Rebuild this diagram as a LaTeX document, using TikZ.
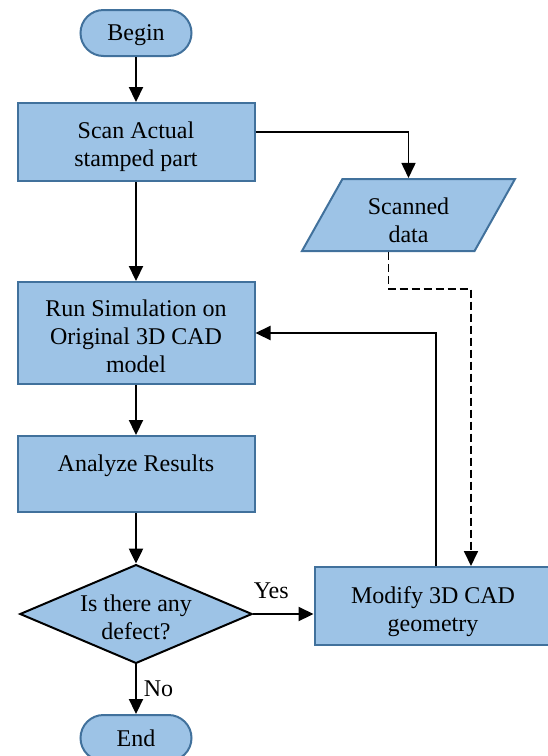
\documentclass[tikz,border=0pt]{standalone}
\usepackage{fontspec}
\setmainfont{Liberation Serif}
\usetikzlibrary{shapes.geometric,arrows.meta}
\definecolor{boxfill}{HTML}{9DC3E6}
\definecolor{boxline}{HTML}{41719C}

\begin{document}
\begin{tikzpicture}[x=0.5pt,y=-0.5pt,
	every node/.style={font=\fontsize{12}{14}\selectfont, align=center},
	box/.style={draw=boxline, fill=boxfill, line width=1pt, minimum width=118.5pt, text depth=0pt},
	term/.style={box, rounded corners=11.5pt, minimum width=55.5pt, minimum height=23pt},
	io/.style={trapezium, trapezium left angle=59, trapezium right angle=121, trapezium stretches body,
		draw=boxline, fill=boxfill, line width=1pt, minimum width=106.5pt, minimum height=36pt,
		text depth=0pt, text height=27pt},
	decide/.style={diamond, draw=black, fill=boxfill, line width=1pt, aspect=2.35, inner sep=0pt,
		minimum width=115pt, minimum height=49pt, text depth=0pt, text height=25.6pt},
	flow/.style={line width=1.1pt, -{Triangle[length=7.5pt,width=7pt]}}]
	\useasboundingbox (0,0) rectangle (547,756);
	\node[term] (begin) at (136,33) {Begin};
	\node[box, minimum height=39pt, text height=24.2pt] (scan) at (136,142) {Scan Actual\\stamped part};
	\node[io] (scanned) at (408.5,215) {Scanned\\data};
	\node[box, minimum height=51pt, text height=39.7pt] (run) at (136,333) {Run Simulation on\\Original 3D CAD\\model};
	\node[box, minimum height=38pt, text depth=11pt] (analyze) at (136,474) {Analyze Results};
	\node[decide] (check) at (136,614) {Is there any\\defect?};
	\node[box, minimum height=39pt, text height=25.2pt] (modify) at (433,606) {Modify 3D CAD\\geometry};
	\node[term] (end) at (136,738) {End};

	\draw[flow] (begin) -- (scan);
	\draw[flow] (scan) -- (run);
	\draw[flow] (run) -- (analyze);
	\draw[flow] (analyze) -- (check);
	\draw[flow] (check) -- node[right] {No} (end);
	\draw[flow] (check.east) -- node[above=4pt, pos=0.3] {Yes} (check.east -| modify.west);
	\draw[flow, line width=0.8pt] ([yshift=5pt]scan.east) -| (scanned.north);
	\draw[flow, line width=0.9pt, dash pattern=on 4pt off 2pt] ([xshift=-10pt]scanned.south) -- ++(0,37) -| ([xshift=19pt]modify.north);
	\draw[flow] ([xshift=1.5pt]modify.north) |- (run.east);
\end{tikzpicture}
\end{document}
